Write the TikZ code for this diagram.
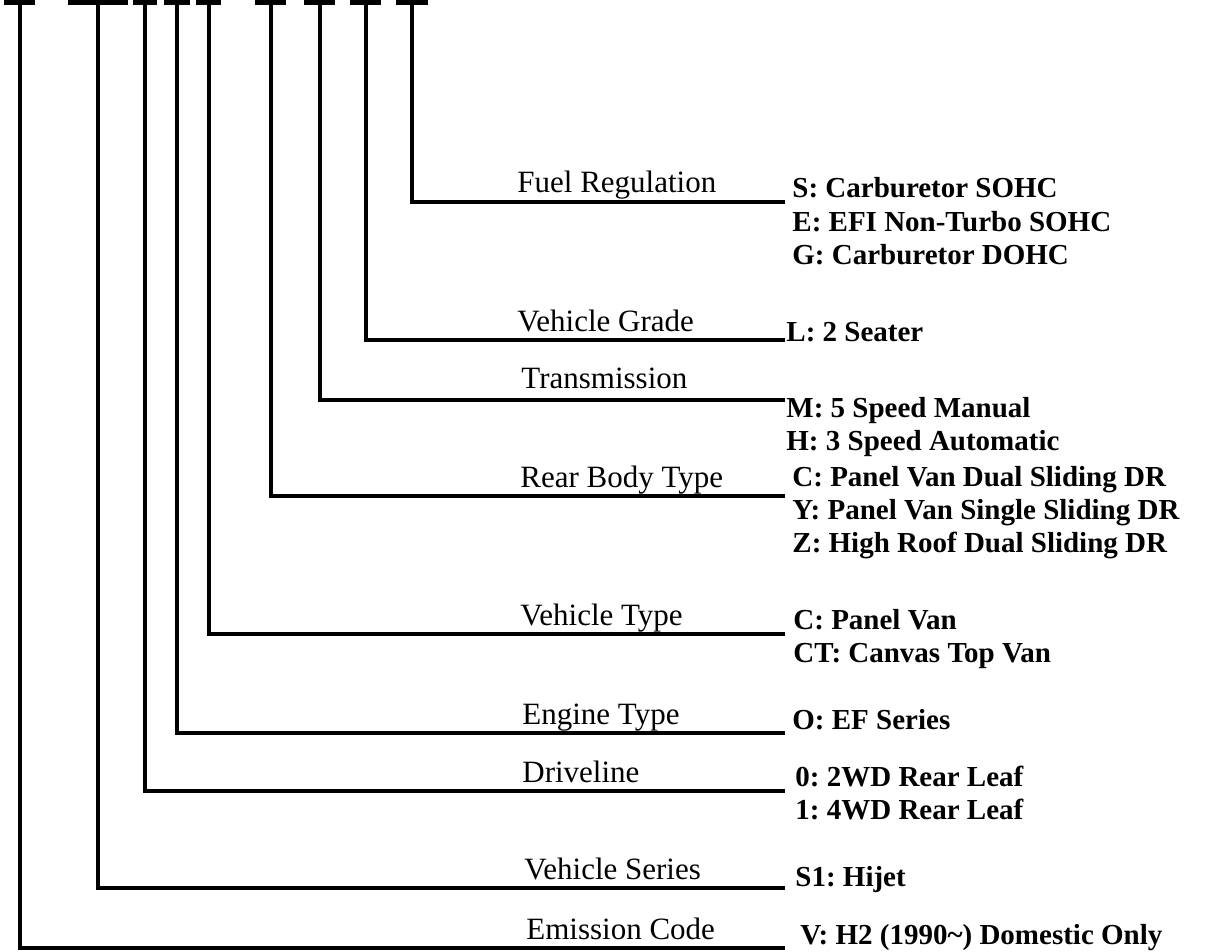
\documentclass[tikz,border=0pt]{standalone}
\usepackage{fontspec}
\setmainfont{Liberation Serif}
\usetikzlibrary{positioning}

\begin{document}
\frenchspacing
\begin{tikzpicture}[x=0.5pt, y=-0.5pt, every node/.style={inner sep=0pt}]
\tikzset{lbl/.style={font=\fontsize{15.5}{18}\selectfont, anchor=base west},
  val/.style={font=\fontsize{14.5}{16.5}\selectfont\bfseries, anchor=base west, align=left},
  tbar/.style={fill=black, minimum height=2.5pt},
  wire/.style={line width=2pt}}
\useasboundingbox (0,0) rectangle (1210,952);

% T marks over each code position
\node[tbar, minimum width=15.5pt] (k9) at (19.5,2.5) {};
\node[tbar, minimum width=30pt] (k8) at (98,2.5) {};
\node[tbar, minimum width=12pt] (k7) at (145,2.5) {};
\node[tbar, minimum width=13pt] (k6) at (177,2.5) {};
\node[tbar, minimum width=12.5pt] (k5) at (208.5,2.5) {};
\node[tbar, minimum width=15.5pt] (k4) at (270.5,2.5) {};
\node[tbar, minimum width=15.5pt] (k3) at (319.5,2.5) {};
\node[tbar, minimum width=15.5pt] (k2) at (365.5,2.5) {};
\node[tbar, minimum width=16pt] (k1) at (412,2.5) {};

% line ends
\coordinate (e1) at (785,202);
\coordinate (e2) at (785,340);
\coordinate (e3) at (785,400);
\coordinate (e4) at (785,496);
\coordinate (e5) at (785,634);
\coordinate (e6) at (785,733);
\coordinate (e7) at (785,791);
\coordinate (e8) at (785,888);
\coordinate (e9) at (785,948);

\draw[wire] (k1.center) |- (e1);
\draw[wire] (k2.center) |- (e2);
\draw[wire] (k3.center) |- (e3);
\draw[wire] (k4.center) |- (e4);
\draw[wire] (k5.center) |- (e5);
\draw[wire] (k6.center) |- (e6);
\draw[wire] (k7.center) |- (e7);
\draw[wire] (k8.center) |- (e8);
\draw[wire] (k9.center) |- (e9);

% field names
\node[lbl] (l1) at (517,193) {Fuel Regulation};
\node[lbl] (l2) at (517,331) {Vehicle Grade};
\node[lbl] (l3) at (521,388) {Transmission};
\node[lbl] (l4) at (520,487) {Rear Body Type};
\node[lbl] (l5) at (520,625) {Vehicle Type};
\node[lbl] (l6) at (522,724) {Engine Type};
\node[lbl] (l7) at (522,782) {Driveline};
\node[lbl] (l8) at (524,879) {Vehicle Series};
\node[lbl] (l9) at (526,939) {Emission Code};

% codes (base anchor sits on the last line)
\node[val] (v1) at (792,264) {S: Carburetor SOHC\\E: EFI Non-Turbo SOHC\\G: Carburetor DOHC};
\node[val] (v2) at (786,342) {L: 2 Seater};
\node[val] (v3) at (786,450) {M: 5 Speed Manual\\H: 3 Speed Automatic};
\node[val] (v4) at (792,552) {C: Panel Van Dual Sliding DR\\Y: Panel Van Single Sliding DR\\Z: High Roof Dual Sliding DR};
\node[val] (v5) at (793,662) {C: Panel Van\\CT: Canvas Top Van};
\node[val] (v6) at (792,729) {O: EF Series};
\node[val] (v7) at (795,819) {0: 2WD Rear Leaf\\1: 4WD Rear Leaf};
\node[val] (v8) at (795,886) {S1: Hijet};
\node[val] (v9) at (800,944) {V: H2 (1990\textasciitilde) Domestic Only};
\end{tikzpicture}
\end{document}
